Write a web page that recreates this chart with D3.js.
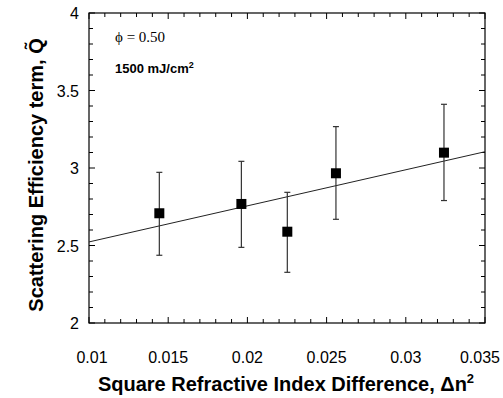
<!DOCTYPE html>
<html>
<head>
<meta charset="utf-8">
<script src="https://cdn.jsdelivr.net/npm/d3@7"></script>
<style>
  body { margin: 0; background: #fff; }
  svg { display: block; font-family: "Liberation Sans", Arial, sans-serif; }
</style>
</head>
<body>
<div id="chart"></div>
<script>
// data
const dn2 = [0.01444, 0.01962, 0.02252, 0.02559, 0.03241];
const qVal = [2.708, 2.768, 2.589, 2.966, 3.099];
const qLow = [2.437, 2.488, 2.327, 2.669, 2.790];
const qHigh = [2.972, 3.043, 2.843, 3.267, 3.411];
const fitX = [0.01, 0.035];
const fitY = [2.523, 3.105];
const xTicks = [0.01, 0.015, 0.02, 0.025, 0.03, 0.035];
const yTicks = [2, 2.5, 3, 3.5, 4];

const W = 503, H = 398;
const margin = { top: 13, right: 18, bottom: 75, left: 89 };
const w = W - margin.left - margin.right;
const h = H - margin.top - margin.bottom;

const x = d3.scaleLinear().domain([0.01, 0.035]).range([0, w]);
const y = d3.scaleLinear().domain([2, 4]).range([h, 0]);

const svg = d3.select('#chart').append('svg').attr('width', W).attr('height', H);
const g = svg.append('g').attr('transform', `translate(${margin.left},${margin.top})`);

const minorX = d3.range(0, 26).map((i) => 0.01 + i * 0.001);
const minorY = d3.range(0, 21).map((i) => 2 + i * 0.1);

// frame + inward ticks on all sides
g.append('rect').attr('width', w).attr('height', h)
  .attr('fill', 'none').attr('stroke', '#000').attr('stroke-width', 1.2);

const ticks = g.append('g').attr('stroke', '#000').attr('stroke-width', 1);
minorX.forEach((v, i) => {
  const len = i % 5 === 0 ? 6 : 4;
  ticks.append('line').attr('x1', x(v)).attr('x2', x(v)).attr('y1', h).attr('y2', h - len);
  ticks.append('line').attr('x1', x(v)).attr('x2', x(v)).attr('y1', 0).attr('y2', len);
});
minorY.forEach((v, i) => {
  const len = i % 5 === 0 ? 6 : 4;
  ticks.append('line').attr('x1', 0).attr('x2', len).attr('y1', y(v)).attr('y2', y(v));
  ticks.append('line').attr('x1', w).attr('x2', w - len).attr('y1', y(v)).attr('y2', y(v));
});

// tick labels (end labels pulled inward a little, as in the original)
const last = xTicks.length - 1;
g.selectAll('.xl').data(xTicks).join('text')
  .attr('x', (d, i) => (i === 0 ? x(d) + 3 : i === last ? x(d) + 15 : x(d)))
  .attr('y', h + 40)
  .attr('text-anchor', (d, i) => (i === last ? 'end' : 'middle'))
  .attr('font-size', 16)
  .text((d) => d);
g.selectAll('.yl').data(yTicks).join('text')
  .attr('x', -10).attr('y', (d) => y(d) + 6)
  .attr('text-anchor', 'end').attr('font-size', 16)
  .text((d) => d);

// fit line
g.append('line')
  .attr('x1', x(fitX[0])).attr('y1', y(fitY[0]))
  .attr('x2', x(fitX[1])).attr('y2', y(fitY[1]))
  .attr('stroke', '#222').attr('stroke-width', 1);

// error bars
const pts = dn2.map((d, i) => ({ x: d, v: qVal[i], lo: qLow[i], hi: qHigh[i] }));
const eb = g.append('g').attr('stroke', '#333').attr('stroke-width', 1.2);
pts.forEach((p) => {
  eb.append('line').attr('x1', x(p.x)).attr('x2', x(p.x)).attr('y1', y(p.lo)).attr('y2', y(p.hi));
  eb.append('line').attr('x1', x(p.x) - 3).attr('x2', x(p.x) + 3).attr('y1', y(p.lo)).attr('y2', y(p.lo));
  eb.append('line').attr('x1', x(p.x) - 3).attr('x2', x(p.x) + 3).attr('y1', y(p.hi)).attr('y2', y(p.hi));
});

// markers
g.selectAll('.pt').data(pts).join('rect')
  .attr('x', (d) => x(d.x) - 5).attr('y', (d) => y(d.v) - 5)
  .attr('width', 10).attr('height', 10).attr('fill', '#000');

// annotations
g.append('text').attr('x', 26).attr('y', 29)
  .attr('font-family', '"Liberation Serif", "Times New Roman", serif').attr('font-size', 15)
  .text('\u03D5 = 0.50');
const ann = g.append('text').attr('x', 26).attr('y', 60)
  .attr('font-size', 13).attr('font-weight', 'bold');
ann.append('tspan').text('1500 mJ/cm');
ann.append('tspan').attr('dy', -5).attr('font-size', 9).text('2');

// axis titles
const xt = svg.append('text').attr('x', margin.left + w / 2 - 1).attr('y', 391)
  .attr('text-anchor', 'middle').attr('font-size', 20).attr('font-weight', 'bold');
xt.append('tspan').text('Square Refractive Index Difference, \u0394n');
xt.append('tspan').attr('dy', -8).attr('font-size', 13).text('2');

svg.append('text')
  .attr('transform', `translate(43,${175}) rotate(-90)`)
  .attr('text-anchor', 'middle').attr('font-size', 20).attr('font-weight', 'bold')
  .text('Scattering Efficiency term, Q\u0303');
</script>
</body>
</html>
